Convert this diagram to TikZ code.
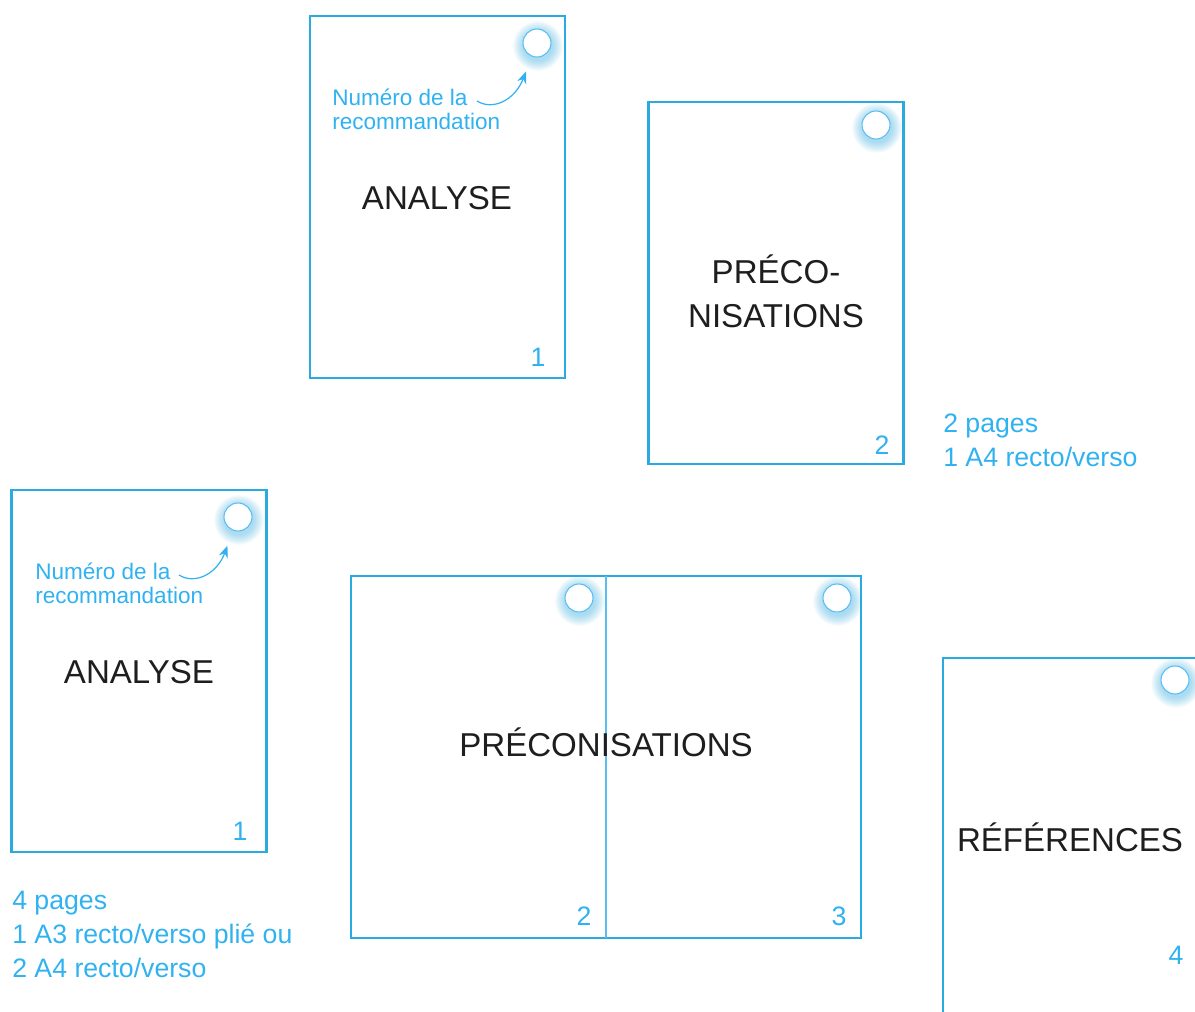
\documentclass[tikz,border=0pt]{standalone}
\usepackage{fontspec}
\setmainfont{Liberation Sans}
\usetikzlibrary{arrows.meta}
\definecolor{pageblue}{RGB}{41,171,226}
\definecolor{labelblue}{RGB}{48,178,240}
\definecolor{ringblue}{RGB}{90,190,245}
\definecolor{inkgrey}{RGB}{30,30,30}

\begin{document}
\begin{tikzpicture}
         [x=0.75pt,y=-0.75pt,
          sheet/.style={draw=pageblue,line width=1.8pt,fill=white,minimum width=191.25pt,minimum height=271.5pt,inner sep=0pt,outer sep=0pt},
          title/.style={text=inkgrey,font=\fontsize{24.8}{33}\selectfont,align=center},
          pnum/.style={text=labelblue,font=\fontsize{20}{24}\selectfont},
          hint/.style={text=labelblue,font=\fontsize{16.9}{18}\selectfont,align=left,anchor=west,inner sep=0pt},
          info/.style={text=labelblue,font=\fontsize{20}{25.5}\selectfont,align=left,anchor=west,inner sep=0pt},
          dot/.style={circle,draw=ringblue,line width=0.8pt,fill=white,minimum size=21pt,inner sep=0pt},
          hintarrow/.style={draw=labelblue,line width=0.9pt,-{Stealth[length=9pt,width=7pt]},shorten >=12pt}]
         \useasboundingbox (0,0) rectangle (1195,1012);
         \clip (0,0) rectangle (1195,1012);

         % pages
         \node[sheet] (pAnalyseA) at (437.5,197) {};
         \node[sheet] (pPrecoA) at (776,283) {};
         \node[sheet] (pAnalyseB) at (139,671) {};
         \node[sheet,minimum width=382.5pt] (pPrecoB) at (606,757) {};
         \node[sheet] (pRef) at (1070.5,839) {};
         \draw[ringblue,line width=0.9pt] (pPrecoB.north) -- (pPrecoB.south);

         % numbering dots
         \foreach \name/\x/\y in {cAnalyseA/537/43,cPrecoA/876/125,cAnalyseB/238/517,cPrecoL/579/598,cPrecoR/837/598,cRef/1175/680}{
             \foreach \k in {1,...,9}
                 \fill[pageblue,opacity=0.05] (\x+1,\y+3) circle[radius=10.5pt+\k*0.9pt];
             \node[dot] (\name) at (\x,\y) {};
         }

         % titles
         \node[title] (tAnalyseA) at (437,198) {ANALYSE};
         \node[title] (tPrecoA) at (776,291) {PRÉCO-\\NISATIONS};
         \node[title] (tAnalyseB) at (139,672) {ANALYSE};
         \node[title] (tPrecoB) at (606,742) {PRÉCONISATIONS};
         \node[title] (tRef) at (1070,837) {RÉFÉRENCES};

         % page numbers
         \node[pnum] (nA1) at (538,357) {1};
         \node[pnum] (nA2) at (882,445) {2};
         \node[pnum] (nB1) at (240,831) {1};
         \node[pnum] (nB2) at (584,916) {2};
         \node[pnum] (nB3) at (839,916) {3};
         \node[pnum] (nB4) at (1176,955) {4};

         % hints
         \node[hint] (hAnalyseA) at (332,109) {Numéro de la\\recommandation};
         \node[hint] (hAnalyseB) at (35,583) {Numéro de la\\recommandation};
         \coordinate (sAnalyseA) at (477,101);
         \coordinate (sAnalyseB) at (179,575);
         \draw[hintarrow] (sAnalyseA) .. controls (493,111) and (515,100) .. (cAnalyseA);
         \draw[hintarrow] (sAnalyseB) .. controls (195,585) and (217,574) .. (cAnalyseB);

         % formats
         \node[info] (iTwo) at (943,440) {2 pages\\1 A4 recto/verso};
         \node[info] (iFour) at (12,934) {4 pages\\1 A3 recto/verso plié ou\\2 A4 recto/verso};

     \end{tikzpicture}
\end{document}
